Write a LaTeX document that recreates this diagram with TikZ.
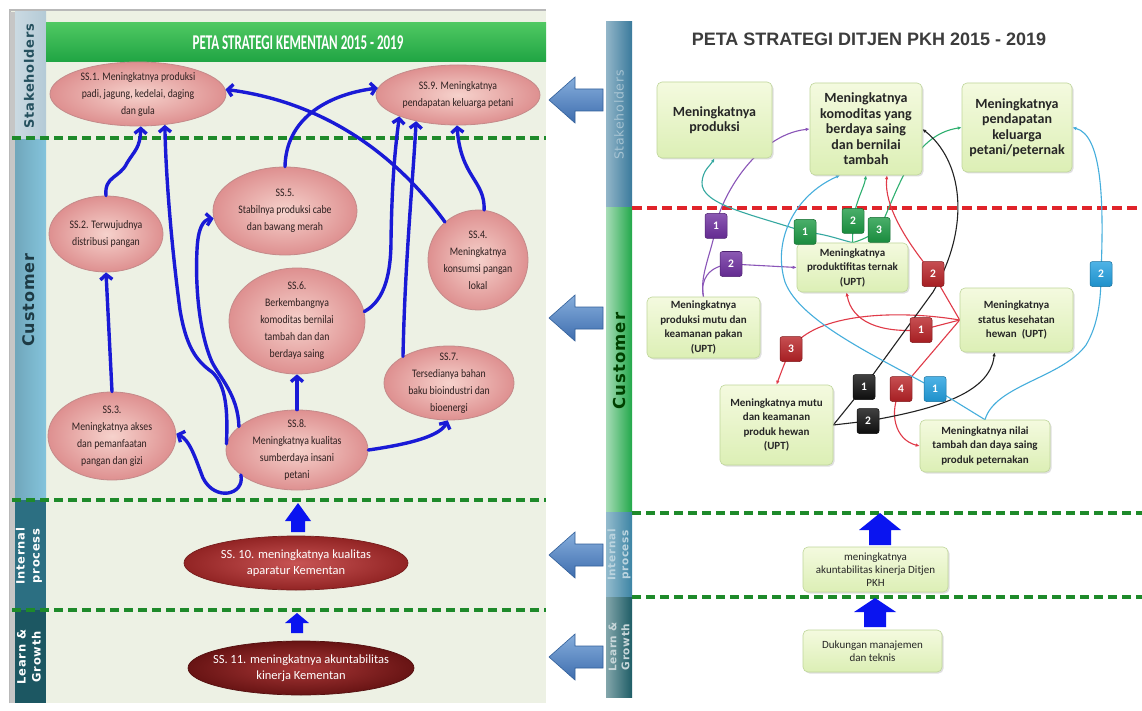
\documentclass[tikz,border=0pt]{standalone}
\usepackage{fontspec}
\setmainfont{Carlito}
\newfontfamily\narrowf[FakeStretch=0.85]{Carlito}
\newfontfamily\condf[FakeStretch=0.62]{Carlito}
\newfontfamily\sidef[LetterSpace=6]{DejaVu Sans}
\newfontfamily\arialf{Liberation Sans}
\usetikzlibrary{shapes.geometric,arrows.meta,calc,shadows}
\pgfdeclarelayer{bg}
\pgfdeclarelayer{lines}
\pgfsetlayers{bg,lines,main}
\definecolor{panelbg}{HTML}{EDF1E4}
\definecolor{sstk}{HTML}{B4CAD6}
\definecolor{scus}{HTML}{84C4DC}
\definecolor{sint}{HTML}{2C6F82}
\definecolor{slrn}{HTML}{1C5762}
\definecolor{stktxt}{HTML}{24505E}
\definecolor{custxt}{HTML}{1D3A44}
\definecolor{tgreen}{HTML}{1FA443}
\definecolor{tlight}{HTML}{4FC862}
\definecolor{gdash}{HTML}{1E8A2A}
\definecolor{pinkin}{HTML}{F6D2CC}
\definecolor{pinkout}{HTML}{DE9090}
\definecolor{ellb}{HTML}{C48A8A}
\definecolor{etxt}{HTML}{2E2020}
\definecolor{dr1in}{HTML}{C85454}
\definecolor{dr1out}{HTML}{922424}
\definecolor{dr2in}{HTML}{A83636}
\definecolor{dr2out}{HTML}{681414}
\definecolor{arrblue}{HTML}{1A1AD6}
\definecolor{blockblue}{HTML}{0A14F0}
\definecolor{bigtop}{HTML}{86AEDC}
\definecolor{bigbot}{HTML}{3E6DAE}
\definecolor{bigdraw}{HTML}{32609A}
\definecolor{rstk}{HTML}{3A7A9C}
\definecolor{rcus}{HTML}{22A84A}
\definecolor{rint}{HTML}{3C84A4}
\definecolor{rlrn}{HTML}{1E5D66}
\definecolor{reddash}{HTML}{E0242A}
\definecolor{boxtop}{HTML}{F4FADF}
\definecolor{boxbot}{HTML}{DCEFB5}
\definecolor{boxb}{HTML}{BFD69A}
\definecolor{ttlgray}{HTML}{3C3C3C}
\definecolor{bpur}{HTML}{6E2FA0}
\definecolor{bgrn}{HTML}{1C9A44}
\definecolor{bred}{HTML}{B82226}
\definecolor{bblk}{HTML}{101010}
\definecolor{bcya}{HTML}{22A0E0}
\definecolor{cpur}{HTML}{8A55B8}
\definecolor{cteal}{HTML}{35A8A0}
\definecolor{cgrn}{HTML}{2FB070}
\definecolor{cred}{HTML}{E03A48}
\definecolor{cblk}{HTML}{222222}
\definecolor{ccya}{HTML}{45AEDC}
\newcommand\myftop{\bfseries\fontsize{14}{15.5}\selectfont}
\newcommand\myfmid{\bfseries\fontsize{11}{14.5}\selectfont}
\newcommand\myflow{\fontsize{11}{13}\selectfont}
\newcommand\blockup[6]{\fill[blockblue] (#1,#2) -- (#1+#5,#3) -- (#1+#6,#3) -- (#1+#6,#4) -- (#1-#6,#4) -- (#1-#6,#3) -- (#1-#5,#3) -- cycle;}
\newcommand\bigleft[2]{\shadedraw[top color=bigtop, bottom color=bigbot, draw=bigdraw, line width=0.6pt] (#1,#2) -- (#1+26,#2-23) -- (#1+26,#2-11) -- (#1+54,#2-11) -- (#1+54,#2+11) -- (#1+26,#2+11) -- (#1+26,#2+23) -- cycle;}
\begin{document}
\begin{tikzpicture}[x=1pt,y=-1pt,
  ssell/.style={ellipse, draw=ellb, line width=0.8pt, inner color=pinkin, outer color=pinkout, inner sep=0pt},
  darkell/.style={ellipse, draw=#1out!80!black, line width=0.7pt, inner color=#1in, outer color=#1out, inner sep=0pt},
  etext/.style={align=center, font=\narrowf\fontsize{11.5}{17}\selectfont, text=etxt, inner sep=0pt},
  dtext/.style={align=center, font=\fontsize{12.5}{16}\selectfont, text=white, inner sep=0pt},
  goal/.style={rectangle, rounded corners=5pt, draw=boxb, line width=0.6pt, top color=boxtop, bottom color=boxbot, drop shadow={opacity=0.25,shadow xshift=1.5pt,shadow yshift=-1.5pt}, align=center, inner sep=2pt, text=black!85},
  badge/.style={rectangle, rounded corners=2.5pt, minimum width=22pt, minimum height=25pt, inner sep=0pt, text=white, font=\bfseries\fontsize{11.5}{11.5}\selectfont, top color=#1!80!white, bottom color=#1!90!black, draw=#1!70!black, line width=0.5pt},
  barr/.style={draw=arrblue, line width=3.4pt, line cap=round, line join=round, -{Straight Barb[length=5pt,width=12pt]}},
  conn/.style={line width=1.1pt, -{Latex[length=4pt,width=3.5pt]}},
  gdashed/.style={draw=gdash, line width=3.5pt, dash pattern=on 9pt off 5pt},
  rdashed/.style={draw=reddash, line width=3.2pt, dash pattern=on 10pt off 5pt},
  sidelab/.style={rotate=90, align=center, inner sep=0pt}]
\useasboundingbox (0,0) rectangle (1142,711);
\begin{pgfonlayer}{bg}
\fill[white] (0,0) rectangle (1142,711);
% left panel
\fill[panelbg] (10,10) rectangle (546,703);
\draw[gray!55, line width=1.2pt] (10,703) -- (10,10) -- (546,10);
\shade[left color=sstk!70!white, right color=sstk] (15,12) rectangle (46,140);
\shade[left color=scus!85!black, right color=scus] (15,140) rectangle (46,500);
\fill[sint] (15,500) rectangle (46,610);
\fill[slrn] (15,610) rectangle (46,703);
\fill[gray!45] (10,12) rectangle (15,703);
\draw[gdashed] (12,138) -- (546,138);
\draw[gdashed] (12,500) -- (546,500);
\draw[gdashed] (12,610) -- (546,610);
% right sidebar
\shade[left color=rstk!55!white, right color=rstk] (606,22) rectangle (632,208);
\shade[left color=rcus!40!white, right color=rcus] (606,208) rectangle (632,512);
\shade[left color=rint!55!white, right color=rint] (606,512) rectangle (632,597);
\shade[left color=rlrn!55!white, right color=rlrn] (606,597) rectangle (632,697);
\draw[rdashed] (632,208) -- (1140,208);
\draw[gdashed] (632,513) -- (1142,513);
\draw[gdashed] (632,597) -- (1142,597);
\end{pgfonlayer}
% ---------- left panel ----------
\node[rectangle, minimum width=500pt, minimum height=39pt, top color=tlight, bottom color=tgreen, inner sep=0pt] (ltbar) at (296,42.5) {};
\node[font=\condf\bfseries\fontsize{21}{22}\selectfont, text=white] (lttext) at (298,43) {PETA STRATEGI KEMENTAN 2015 - 2019};
\node[sidelab, font=\sidef\bfseries\fontsize{13}{14}\selectfont, text=stktxt] (lsk) at (29,76) {Stakeholders};
\node[sidelab, font=\sidef\bfseries\fontsize{16}{17}\selectfont, text=custxt] (lcu) at (29,300) {Customer};
\node[sidelab, font=\sidef\bfseries\fontsize{11.5}{15}\selectfont, text=white] (lip) at (29,556) {Internal\\process};
\node[sidelab, font=\sidef\bfseries\fontsize{11.5}{15}\selectfont, text=white] (llg) at (29,657) {Learn \&\\Growth};

\node[ssell, minimum width=176pt, minimum height=64pt] (E1) at (138,94) {};
\node[etext] (t1) at (E1) {SS.1. Meningkatnya produksi\\padi, jagung, kedelai, daging\\dan gula};
\node[ssell, minimum width=164pt, minimum height=60pt] (E9) at (458,95) {};
\node[etext] (t9) at (E9) {SS.9. Meningkatnya\\pendapatan keluarga petani};
\node[ssell, minimum width=114pt, minimum height=76pt] (E2) at (106,234) {};
\node[etext] (t2) at (E2) {SS.2. Terwujudnya\\distribusi pangan};
\node[ssell, minimum width=144pt, minimum height=88pt] (E5) at (285,211) {};
\node[etext] (t5) at (E5) {SS.5.\\Stabilnya produksi cabe\\dan bawang merah};
\node[ssell, minimum width=100pt, minimum height=100pt] (E4) at (478,260) {};
\node[etext] (t4) at (E4) {SS.4.\\Meningkatnya\\konsumsi pangan\\lokal};
\node[ssell, minimum width=136pt, minimum height=106pt] (E6) at (297,321) {};
\node[etext] (t6) at (E6) {SS.6.\\Berkembangnya\\komoditas bernilai\\tambah dan dan\\berdaya saing};
\node[ssell, minimum width=130pt, minimum height=74pt] (E7) at (449,383) {};
\node[etext] (t7) at (E7) {SS.7.\\Tersedianya bahan\\baku bioindustri dan\\bioenergi};
\node[ssell, minimum width=128pt, minimum height=88pt] (E3) at (112,436) {};
\node[etext] (t3) at (E3) {SS.3.\\Meningkatnya akses\\dan pemanfaatan\\pangan dan gizi};
\node[ssell, minimum width=142pt, minimum height=80pt] (E8) at (297,450) {};
\node[etext] (t8) at (E8) {SS.8.\\Meningkatnya kualitas\\sumberdaya insani\\petani};
\node[darkell=dr1, minimum width=224pt, minimum height=54pt] (E10) at (296,563) {};
\node[dtext] (t10) at (E10) {SS. 10. meningkatnya kualitas\\aparatur Kementan};
\node[darkell=dr2, minimum width=226pt, minimum height=54pt] (E11) at (301,668) {};
\node[dtext] (t11) at (E11) {SS. 11. meningkatnya akuntabilitas\\kinerja Kementan};

\draw[barr] (E2.north) .. controls (104,176) and (120,178) .. (127,163) .. controls (135,150) and (140,148) .. (E1.-85);
\draw[barr] (E8.175) .. controls (228,410) and (226,385) .. (212,372) .. controls (195,360) and (186,345) .. (180,310) .. controls (172,250) and (166,180) .. (E1.-49);
\draw[barr] (E8.158) .. controls (238,395) and (220,378) .. (212,362) .. controls (200,335) and (195,290) .. (197,250) .. controls (198,228) and (203,220) .. (E5.186);
\draw[barr] (E5.north) .. controls (286,120) and (325,95) .. (E9.175);
\draw[barr] (E4.131) .. controls (400,160) and (330,103) .. (E1.3);
\draw[barr] (E4.83) .. controls (485,180) and (461,178) .. (E9.-92);
\draw[barr] (E7.150) .. controls (405,260) and (413,180) .. (E9.-148);
\draw[barr] (E6.8) .. controls (386,300) and (391,270) .. (391,240) .. controls (392,180) and (395,150) .. (E9.-160);
\draw[barr] (E8.north) -- (E6.south);
\draw[barr] (E8.east) .. controls (410,444) and (440,436) .. (E7.-92);
\draw[barr] (E8.-156) .. controls (245,495) and (215,502) .. (203,478) .. controls (196,460) and (190,440) .. (E3.2);
\draw[barr] (E3.north) -- (E2.south);

\blockup{298}{503}{521}{532}{13}{7}
\blockup{297}{613}{623}{633}{12}{6}

% big left arrows
\bigleft{549}{100}
\bigleft{549}{318}
\bigleft{549}{555}
\bigleft{549}{657}

% ---------- right panel ----------
\node[font=\arialf\bfseries\fontsize{18}{20}\selectfont, text=ttlgray] (rtitle) at (869,39) {PETA STRATEGI DITJEN PKH 2015 - 2019};
\node[sidelab, font=\sidef\fontsize{12.5}{14}\selectfont, text=rstk!45!white] (rsk) at (619,115) {Stakeholders};
\node[sidelab, font=\sidef\bfseries\fontsize{16.5}{17}\selectfont, text=black!75!green] (rcu) at (619,361) {Customer};
\node[sidelab, font=\sidef\bfseries\fontsize{10.5}{13}\selectfont, text=rint!35!white] (rip) at (619,555) {Internal\\process};
\node[sidelab, font=\sidef\bfseries\fontsize{10.5}{13}\selectfont, text=rlrn!25!white] (rlg) at (619,647) {Learn \&\\Growth};

\node[goal, minimum width=115pt, minimum height=76pt, font=\myftop] (B1) at (714.5,120) {Meningkatnya\\produksi};
\node[goal, minimum width=112pt, minimum height=92pt, font=\myftop] (B2) at (866,129) {Meningkatnya\\komoditas yang\\berdaya saing\\dan bernilai\\tambah};
\node[goal, minimum width=110pt, minimum height=89pt, font=\myftop] (B3) at (1017,127.5) {Meningkatnya\\pendapatan\\keluarga\\petani/peternak};
\node[goal, minimum width=111pt, minimum height=49pt, font=\myfmid] (B4) at (852.5,267.5) {Meningkatnya\\produktifitas ternak\\(UPT)};
\node[goal, minimum width=113pt, minimum height=61pt, font=\myfmid] (B5) at (703.5,327.5) {Meningkatnya\\produksi mutu dan\\keamanan pakan\\(UPT)};
\node[goal, minimum width=113pt, minimum height=64pt, font=\myfmid] (B6) at (1016.5,320) {Meningkatnya\\status kesehatan\\hewan\ \ (UPT)};
\node[goal, minimum width=113pt, minimum height=80pt, font=\myfmid] (B7) at (776.5,425) {Meningkatnya mutu\\dan keamanan\\produk hewan\\(UPT)};
\node[goal, minimum width=130pt, minimum height=52pt, font=\myfmid] (B8) at (985,446) {Meningkatnya nilai\\tambah dan daya saing\\produk peternakan};
\node[goal, minimum width=145pt, minimum height=45pt, font=\myflow] (B9) at (875.5,569.5) {meningkatnya\\akuntabilitas kinerja Ditjen\\PKH};
\node[goal, minimum width=139pt, minimum height=42pt, font=\myflow] (B10) at (872.5,651) {Dukungan manajemen\\dan teknis};

\blockup{880}{513}{530}{545}{21}{11}
\blockup{875}{598}{612}{627}{21}{11}

\node[badge=bpur] (P1) at (716,226) {1};
\node[badge=bpur] (P2) at (731,264) {2};
\node[badge=bgrn] (G1) at (805,232) {1};
\node[badge=bgrn] (G2) at (853,221) {2};
\node[badge=bgrn] (G3) at (879,230) {3};
\node[badge=bred] (R2) at (933,274) {2};
\node[badge=bred] (R1) at (921,330) {1};
\node[badge=bred] (R3) at (791,349) {3};
\node[badge=bred] (R4) at (901,389) {4};
\node[badge=bblk] (K1) at (864,387) {1};
\node[badge=bblk] (K2) at (868,421) {2};
\node[badge=bcya] (C1) at (935,389) {1};
\node[badge=bcya] (C2) at (1101,274) {2};

\begin{pgfonlayer}{lines}
\draw[conn, cpur] (B5.north) .. controls (699,276) and (712,252) .. (P1.center) .. controls (720,200) and (755,135) .. (B2.west);
\draw[conn, cpur] (B5.north) .. controls (700,280) and (708,266) .. (P2.center) -- (B4.west);
\draw[conn, cteal] (B4.north) .. controls (835,238) and (825,234) .. (G1.center) .. controls (755,215) and (700,205) .. (702,182) .. controls (703,170) and (710,166) .. (B1.south);
\draw[conn, cgrn] (B4.north) -- (G2.center) .. controls (856,200) and (864,188) .. (B2.south);
\draw[conn, cgrn] (B4.north) .. controls (862,240) and (870,236) .. (G3.center) .. controls (898,190) and (912,135) .. (B3.west);
\draw[conn, cred] (B6.west) -- (R2.center) .. controls (905,240) and (884,205) .. ($(B2.south)+(21,0)$);
\draw[conn, cred] (B6.west) -- (R1.center) .. controls (880,333) and (852,322) .. ($(B4.south)+(-6,0)$);
\draw[conn, cred] (B6.west) .. controls (900,310) and (815,312) .. (R3.center) .. controls (785,362) .. (B7.north);
\draw[conn, cred] (B6.west) -- (R4.center) .. controls (888,412) and (895,440) .. (B8.west);
\draw[conn, cblk] (B7.east) -- (K1.center) -- (933,292) .. controls (972,225) and (962,160) .. (B2.east);
\draw[conn, cblk] (B7.east) -- (K2.center) .. controls (930,410) and (990,395) .. ($(B6.south)+(-22,0)$);
\draw[conn, ccya] (B8.north) -- (C1.center) .. controls (880,358) and (800,322) .. (785,282) .. controls (772,240) and (795,195) .. ($(B2.south)+(-26,0)$);
\draw[conn, ccya] (B8.north) .. controls (995,385) and (1062,378) .. (1086,345) .. controls (1098,325) and (1101,300) .. (C2.center) .. controls (1104,200) and (1102,135) .. (B3.east);
\end{pgfonlayer}
\end{tikzpicture}
\end{document}
